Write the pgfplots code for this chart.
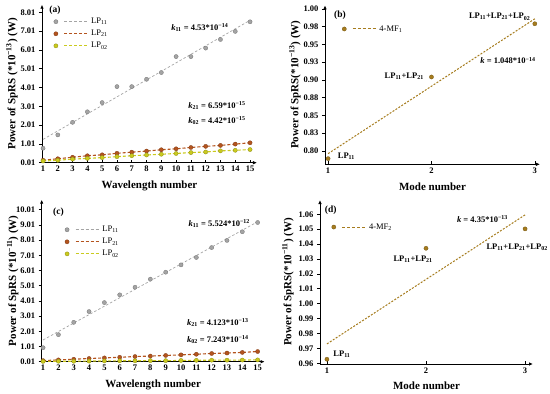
\documentclass[border=0pt]{standalone}
\usepackage{fontspec}
\setmainfont{Liberation Serif}
\usepackage{pgfplots}
\pgfplotsset{compat=1.18}
\usetikzlibrary{arrows.meta}

\definecolor{cgray}{HTML}{A4A4A4}
\definecolor{cbrown}{HTML}{B4541E}
\definecolor{cyell}{HTML}{CACA1E}
\definecolor{cgold}{HTML}{A67C1E}

\tikzset{knote/.style={font=\fontsize{8.5}{9}\selectfont\bfseries}}

\pgfplotsset{
 base/.style={
  scale only axis,
  anchor=south west,
  axis lines=left,
  axis line style={line width=0.8pt,-{Latex[length=4pt,width=3.5pt]}},
  ticklabel style={font=\fontsize{8.5}{9}\selectfont\bfseries},
  /pgf/number format/assume math mode=true,
  label style={font=\fontsize{11}{12}\selectfont\bfseries},
  xlabel style={yshift=-2pt},
  tick style={black, line width=0.6pt},
  major tick length=3pt,
  xtick align=inside, ytick align=outside,
  clip=false,
  legend style={draw=none, font=\fontsize{8.5}{9}\selectfont, row sep=1pt, cells={anchor=west}},
 },
 ylab/.style={ylabel style={at={(axis description cs:#1,0.5)}, anchor=center, rotate=0}},
 mleg/.style 2 args={legend image code/.code={%
   \draw[##1] plot coordinates {(0cm,0cm)};%
   \draw[line width=#2, dash pattern=on 3pt off 2pt, color=#1] (0.3cm,0cm) -- (1.15cm,0cm);}},
 pts/.style={only marks, mark=*, mark size=2.1pt, mark options={fill=#1, draw=#1!70!black, line width=0.3pt}},
}

\begin{document}
\begin{tikzpicture}
\useasboundingbox (0pt,0pt) rectangle (550pt,394pt);

% ---------------- (a)
\begin{axis}[base, at={(42pt,231.3pt)}, width=215pt, height=158pt,
 xmin=0.93, xmax=15.47, ymin=0.01, ymax=8.42,
 xtick={1,...,15},
 ytick={0.01,1.01,2.01,3.01,4.01,5.01,6.01,7.01,8.01},
 yticklabels={0.01,1.01,2.01,3.01,4.01,5.01,6.01,7.01,8.01},
 xlabel={Wavelength number},
 ylabel={Power of SpRS (*10\textsuperscript{−13}) (W)}, ylab=-0.14,
 legend style={at={(0.04,0.816)},anchor=west},
]
\addplot[cgray, line width=0.7pt, dash pattern=on 2.5pt off 2pt, forget plot] coordinates {(1,1.25) (15,7.59)};
\addplot[cbrown, line width=1.1pt, dash pattern=on 3pt off 2pt, forget plot] coordinates {
(1,0.14)(2,0.22)(3,0.30)(4,0.38)(5,0.43)(6,0.51)(7,0.57)(8,0.63)(9,0.70)(10,0.75)(11,0.82)(12,0.88)(13,0.93)(14,1.00)(15,1.07)};
\addplot[cyell, line width=1.1pt, dash pattern=on 3pt off 2pt, forget plot] coordinates {
(1,0.10)(2,0.14)(3,0.20)(4,0.24)(5,0.28)(6,0.33)(7,0.38)(8,0.42)(9,0.46)(10,0.50)(11,0.55)(12,0.58)(13,0.64)(14,0.67)(15,0.71)};
\addplot[pts=cgray, mleg={cgray}{0.7pt}] coordinates {
(1,0.78)(2,1.49)(3,2.16)(4,2.72)(5,3.21)(6,4.06)(7,4.06)(8,4.45)(9,4.81)(10,5.66)(11,5.66)(12,6.11)(13,6.57)(14,7.00)(15,7.51)};
\addlegendentry{LP\textsubscript{11}}
\addplot[pts=cbrown, mleg={cbrown}{1.1pt}] coordinates {
(1,0.14)(2,0.22)(3,0.30)(4,0.38)(5,0.43)(6,0.51)(7,0.57)(8,0.63)(9,0.70)(10,0.75)(11,0.82)(12,0.88)(13,0.93)(14,1.00)(15,1.07)};
\addlegendentry{LP\textsubscript{21}}
\addplot[pts=cyell, mleg={cyell}{1.1pt}] coordinates {
(1,0.10)(2,0.14)(3,0.20)(4,0.24)(5,0.28)(6,0.33)(7,0.38)(8,0.42)(9,0.46)(10,0.50)(11,0.55)(12,0.58)(13,0.64)(14,0.67)(15,0.71)};
\addlegendentry{LP\textsubscript{02}}
\node[font=\fontsize{9.5}{10}\selectfont\bfseries] at (rel axis cs:0.06,0.966) {(a)};
\node[knote] at (axis cs:11.6,7.19) {\textit{k}\textsubscript{11} = 4.53*10\textsuperscript{−14}};
\node[knote] at (axis cs:12.76,3.03) {\textit{k}\textsubscript{21} = 6.59*10\textsuperscript{−15}};
\node[knote] at (axis cs:12.76,2.23) {\textit{k}\textsubscript{02} = 4.42*10\textsuperscript{−15}};
\end{axis}

% ---------------- (b)
\begin{axis}[base, at={(325pt,229.7pt)}, width=215pt, height=159pt,
 xmin=0.97, xmax=3.05, ymin=0.781, ymax=1.005,
 xtick={1,2,3},
 ytick={0.8,0.825,0.85,0.875,0.9,0.925,0.95,0.975,1.0},
 yticklabels={0.80,0.83,0.85,0.88,0.90,0.93,0.95,0.98,1.00},
 xlabel={Mode number},
 ylabel={Power of SpRS(*10\textsuperscript{−13}) (W)}, ylab=-0.14,
 legend style={at={(0.065,0.851)},anchor=west},
]
\addplot[cgold, line width=1pt, dash pattern=on 2pt off 1.5pt, forget plot] coordinates {(1,0.796) (3,0.986)};
\addplot[pts=cgold, mleg={cgold}{1pt}] coordinates {(1,0.789)(2,0.904)(3,0.979)};
\addlegendentry{4-MF\textsubscript{1}}
\node[font=\fontsize{9.5}{10}\selectfont\bfseries] at (rel axis cs:0.07,0.94) {(b)};
\node[knote, anchor=west] at (axis cs:1.06,0.792) {LP\textsubscript{11}};
\node[knote, anchor=east] at (axis cs:1.96,0.905) {LP\textsubscript{11}+LP\textsubscript{21}};
\node[knote] at (axis cs:2.66,0.989) {LP\textsubscript{11}+LP\textsubscript{21}+LP\textsubscript{02}};
\node[knote] at (axis cs:2.74,0.927) {\textit{k} = 1.048*10\textsuperscript{−14}};
\end{axis}

% ---------------- (c)
\begin{axis}[base, at={(41.7pt,32.3pt)}, width=223pt, height=162pt,
 xmin=0.91, xmax=15.46, ymin=0.01, ymax=10.67,
 xtick={1,...,15},
 ytick={0.01,1.01,2.01,3.01,4.01,5.01,6.01,7.01,8.01,9.01,10.01},
 yticklabels={0.01,1.01,2.01,3.01,4.01,5.01,6.01,7.01,8.01,9.01,10.01},
 xlabel={Wavelength number},
 ylabel={Power of SpRS (*10\textsuperscript{−11}) (W)}, ylab=-0.13,
 legend style={at={(0.09,0.74)},anchor=west},
]
\addplot[cgray, line width=0.7pt, dash pattern=on 2.5pt off 2pt, forget plot] coordinates {(1,1.44) (15,9.22)};
\addplot[cbrown, line width=1.1pt, dash pattern=on 3pt off 2pt, forget plot] coordinates {
(1,0.08)(2,0.13)(3,0.17)(4,0.22)(5,0.26)(6,0.30)(7,0.35)(8,0.38)(9,0.42)(10,0.46)(11,0.50)(12,0.55)(13,0.58)(14,0.62)(15,0.68)};
\addplot[cyell, line width=1.1pt, dash pattern=on 3pt off 2pt, forget plot] coordinates {
(1,0.03)(2,0.04)(3,0.04)(4,0.05)(5,0.06)(6,0.07)(7,0.07)(8,0.08)(9,0.08)(10,0.09)(11,0.10)(12,0.11)(13,0.11)(14,0.12)(15,0.13)};
\addplot[pts=cgray, mleg={cgray}{0.7pt}] coordinates {
(1,0.93)(2,1.79)(3,2.60)(4,3.31)(5,3.90)(6,4.41)(7,4.91)(8,5.44)(9,5.90)(10,6.38)(11,6.87)(12,7.52)(13,7.99)(14,8.56)(15,9.17)};
\addlegendentry{LP\textsubscript{11}}
\addplot[pts=cbrown, mleg={cbrown}{1.1pt}] coordinates {
(1,0.08)(2,0.13)(3,0.17)(4,0.22)(5,0.26)(6,0.30)(7,0.35)(8,0.38)(9,0.42)(10,0.46)(11,0.50)(12,0.55)(13,0.58)(14,0.62)(15,0.68)};
\addlegendentry{LP\textsubscript{21}}
\addplot[pts=cyell, mleg={cyell}{1.1pt}] coordinates {
(1,0.03)(2,0.04)(3,0.04)(4,0.05)(5,0.06)(6,0.07)(7,0.07)(8,0.08)(9,0.08)(10,0.09)(11,0.10)(12,0.11)(13,0.11)(14,0.12)(15,0.13)};
\addlegendentry{LP\textsubscript{02}}
\node[font=\fontsize{9.5}{10}\selectfont\bfseries] at (rel axis cs:0.075,0.924) {(c)};
\node[knote] at (axis cs:12.5,9.09) {\textit{k}\textsubscript{11} = 5.524*10\textsuperscript{−12}};
\node[knote] at (axis cs:12.4,2.56) {\textit{k}\textsubscript{21} = 4.123*10\textsuperscript{−13}};
\node[knote] at (axis cs:12.4,1.44) {\textit{k}\textsubscript{02} = 7.243*10\textsuperscript{−14}};
\end{axis}

% ---------------- (d)
\begin{axis}[base, at={(320pt,30pt)}, width=213pt, height=164pt,
 xmin=0.93, xmax=3.08, ymin=0.9595, ymax=1.0696,
 xtick={1,2,3},
 ytick={0.96,0.97,0.98,0.99,1.00,1.01,1.02,1.03,1.04,1.05,1.06},
 yticklabels={0.96,0.97,0.98,0.99,1.00,1.01,1.02,1.03,1.04,1.05,1.06},
 xlabel={Mode number},
 ylabel={Power of SpRS(*10\textsuperscript{−11}) (W)}, ylab=-0.15,
 legend style={at={(0.04,0.835)},anchor=west},
]
\addplot[cgold, line width=1pt, dash pattern=on 2pt off 1.5pt, forget plot] coordinates {(1,0.973) (3,1.0596)};
\addplot[pts=cgold, mleg={cgold}{1pt}] coordinates {(1,0.9627)(2,1.0372)(3,1.0502)};
\addlegendentry{4-MF\textsubscript{2}}
\node[font=\fontsize{9.5}{10}\selectfont\bfseries] at (rel axis cs:0.05,0.939) {(d)};
\node[knote, anchor=west] at (axis cs:1.03,0.9662) {LP\textsubscript{11}};
\node[knote] at (axis cs:1.87,1.030) {LP\textsubscript{11}+LP\textsubscript{21}};
\node[knote] at (axis cs:2.92,1.0377) {LP\textsubscript{11}+LP\textsubscript{21}+LP\textsubscript{02}};
\node[knote] at (axis cs:2.57,1.0569) {\textit{k} = 4.35*10\textsuperscript{−13}};
\end{axis}
\end{tikzpicture}
\end{document}
